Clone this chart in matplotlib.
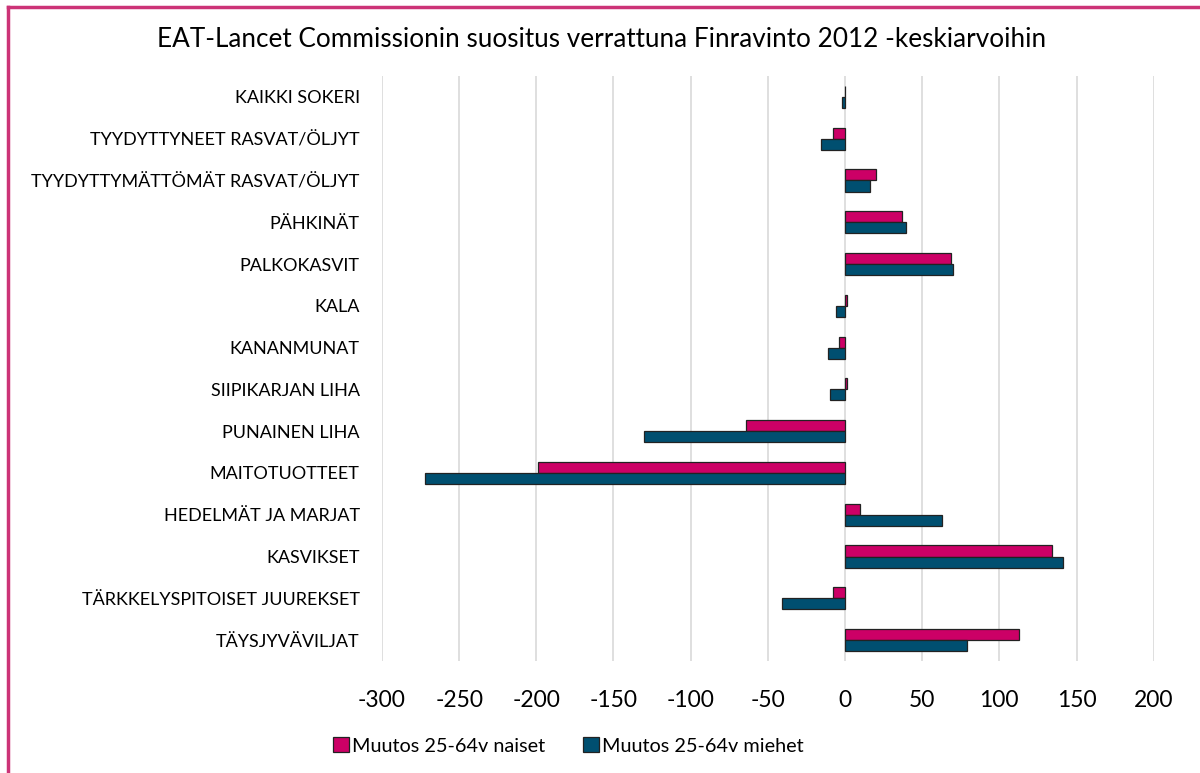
import numpy as np
import matplotlib
matplotlib.use("Agg")
import matplotlib.pyplot as plt
from matplotlib.lines import Line2D

plt.rcParams['font.family'] = ['Lato', 'DejaVu Sans']

categories = ['TÄYSJYVÄVILJAT', 'TÄRKKELYSPITOISET JUUREKSET', 'KASVIKSET',
              'HEDELMÄT JA MARJAT', 'MAITOTUOTTEET', 'PUNAINEN LIHA',
              'SIIPIKARJAN LIHA', 'KANANMUNAT', 'KALA', 'PALKOKASVIT',
              'PÄHKINÄT', 'TYYDYTTYMÄTTÖMÄT RASVAT/ÖLJYT',
              'TYYDYTTYNEET RASVAT/ÖLJYT', 'KAIKKI SOKERI']
naiset = [113, -8, 134, 10, -199, -64, 1, -4, 1, 68.5, 37, 20, -8, -0.3]
miehet = [79, -41, 141, 63, -272, -130, -10, -11, -6, 70, 39.5, 16, -15.5, -2]
xticks = list(range(-300, 201, 50))

COL_N = '#CC0066'
COL_M = '#004F70'

fig = plt.figure(figsize=(12, 7.73), dpi=100)
ax = fig.add_axes([0.3183, 0.1449, 0.6431, 0.7568])

y = np.arange(len(categories))
h = 0.265
ax.barh(y + h / 2, naiset, height=h, color=COL_N, edgecolor='#222222', lw=0.9,
        label='Muutos 25-64v naiset', zorder=3)
ax.barh(y - h / 2, miehet, height=h, color=COL_M, edgecolor='#222222', lw=0.9,
        label='Muutos 25-64v miehet', zorder=3)

ax.set_xlim(-300, 200)
ax.set_ylim(-0.5, len(categories) - 0.5)
ax.set_xticks(xticks)
ax.set_xticklabels([str(v) for v in xticks], fontsize=16.5)
ax.set_yticks(y)
ax.set_yticklabels(categories, fontsize=13)
ax.tick_params(axis='both', length=0)
ax.tick_params(axis='y', pad=16)
ax.tick_params(axis='x', pad=21)
ax.grid(axis='x', color='#D9D9D9', lw=1.2, zorder=0)
for s in ax.spines.values():
    s.set_visible(False)

fig.text(0.501, 0.9396, 'EAT-Lancet Commissionin suositus verrattuna Finravinto 2012 -keskiarvoihin',
         ha='center', va='baseline', fontsize=18.8)

fig.legend(loc='center', bbox_to_anchor=(0.4738, 0.035), ncol=2, frameon=False,
           fontsize=14.3, handlelength=0.8, handleheight=0.8, handletextpad=0.15,
           columnspacing=1.9)

# pink frame (only left and top edges are visible in the crop)
border = '#CC3377'
fig.add_artist(Line2D([0.0067, 0.0067], [0.0, 0.991], transform=fig.transFigure,
                      color=border, lw=2.5, solid_capstyle='projecting'))
fig.add_artist(Line2D([0.0067, 1.0], [0.991, 0.991], transform=fig.transFigure,
                      color=border, lw=2.5, solid_capstyle='projecting'))

fig.savefig('out.png', dpi=100)
